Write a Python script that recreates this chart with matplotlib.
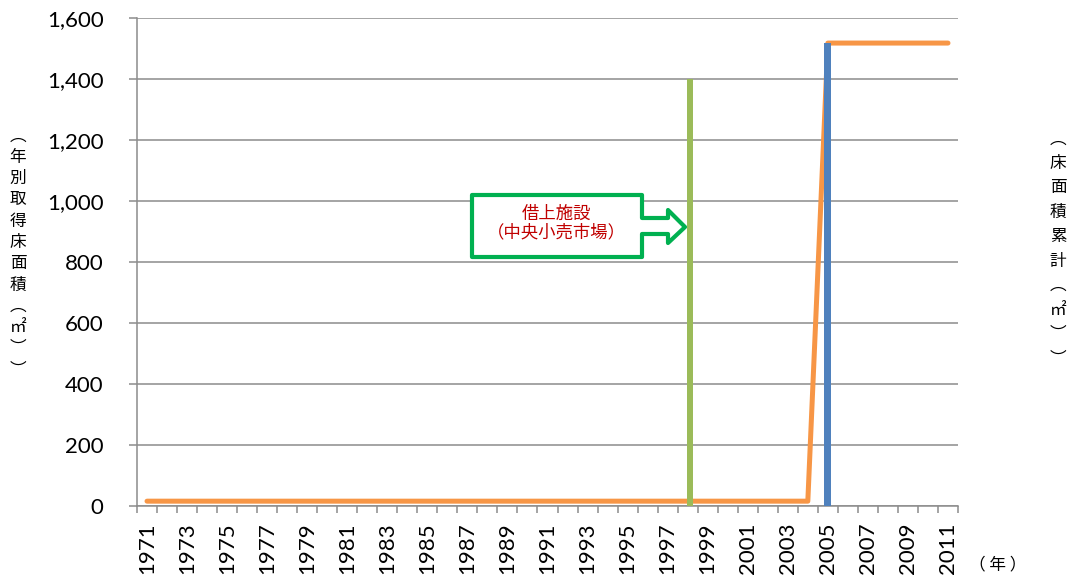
import matplotlib
matplotlib.use("Agg")
import matplotlib.pyplot as plt
from matplotlib.patches import Polygon

plt.rcParams['font.family'] = ['Lato', 'Noto Sans CJK JP', 'DejaVu Sans']

years = [str(y) for y in range(1971, 2012)]
acquired = [0]*34 + [1517] + [0]*6          # 2005
borrowed = [0]*27 + [1400] + [0]*13         # 1998
cumulative = [0]*34 + [1517]*7

W, H = 1074, 579
fig = plt.figure(figsize=(W/100, H/100), dpi=100)
rect = [137/W, 1-506/H, (958-137)/W, (506-18)/H]
ax = fig.add_axes(rect, zorder=1)          # grid / axes
ax_line = fig.add_axes(rect, zorder=2)     # cumulative line
ax_bar = fig.add_axes(rect, zorder=3)      # bars on top
for a in (ax_line, ax_bar):
    a.patch.set_visible(False)
    a.axis('off')

x = list(range(len(years)))
ax_bar.bar(x, acquired, width=0.35, color='#4F81BD')
ax_bar.bar([i + 0.12 for i in x], borrowed, width=0.27, color='#9BBB59')
ax_bar.set_xlim(-0.5, len(years)-0.5)
ax_bar.set_ylim(0, 1600)

ax_line.plot(x, cumulative, color='#F79646', lw=3.6, solid_capstyle='round')
ax_line.set_xlim(-0.5, len(years)-0.5)
ax_line.set_ylim(-16, 1600)

ax.set_xlim(-0.5, len(years)-0.5)
ax.set_ylim(0, 1600)
ax.set_yticks(range(0, 1601, 200))
ax.set_yticklabels([f"{v:,}" for v in range(0, 1601, 200)], fontsize=16)
ax.grid(axis='y', color='#8C8C8C', lw=1.1, zorder=0)
for s in ['top', 'right']:
    ax.spines[s].set_visible(False)
for s in ['left', 'bottom']:
    ax.spines[s].set_color('#8C8C8C')
    ax.spines[s].set_linewidth(1.1)
ax.tick_params(axis='y', length=6, color='#8C8C8C', width=1.1, pad=18)

ax.set_xticks([i - 0.5 for i in range(len(years)+1)], minor=True)
ax.tick_params(axis='x', which='minor', length=5, color='#8C8C8C', width=1.1)
ax.set_xticks(x[::2])
ax.set_xticklabels(years[::2], rotation=90, fontsize=16)
ax.tick_params(axis='x', which='major', length=0, pad=12)

cjk = ['Noto Sans CJK JP', 'DejaVu Sans']
left_lbl = ['︵', '年', '別', '取', '得', '床', '面', '積', '︵', '㎡', '︶', '︶']
fig.text(18/W, 1-253/H, "\n".join(left_lbl), ha='center', va='center',
         fontsize=12, linespacing=1.33, family=cjk)
right_lbl = ['︵', '床', '面', '積', '累', '計', '︵', '㎡', '︶', '︶']
fig.text(1058/W, 1-249/H, "\n".join(right_lbl), ha='center', va='center',
         fontsize=12, linespacing=1.57, family=cjk)
fig.text(998/W, 1-565/H, "（ 年 ）", ha='center', va='center', fontsize=12, family=cjk)

# callout arrow box
pts_px = [(472, 195), (642, 195), (642, 218), (668, 218), (668, 210), (685, 227),
          (668, 243), (668, 234), (642, 234), (642, 257), (472, 257)]
pts = [(px/W, 1-py/H) for px, py in pts_px]
fig.patches.append(Polygon(pts, closed=True, transform=fig.transFigure,
                           facecolor='white', edgecolor='#00B050', lw=3, joinstyle='round', zorder=5))
fig.text(556/W, 1-223/H, "借上施設\n（中央小売市場）", ha='center', va='center',
         fontsize=12.5, color='#C00000', linespacing=1.0, zorder=6, family=cjk)

fig.savefig('out.png', dpi=100)
